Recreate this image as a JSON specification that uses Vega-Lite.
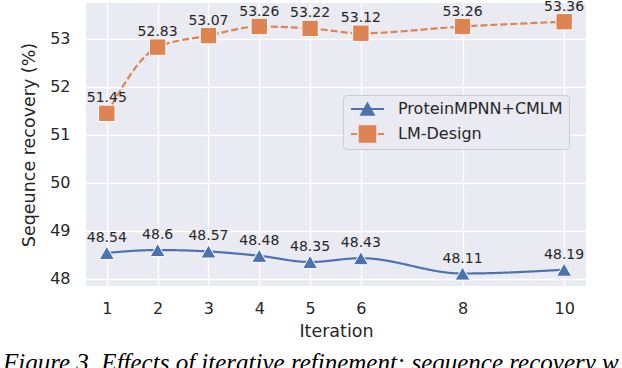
{
  "$schema": "https://vega.github.io/schema/vega-lite/v6.json",
  "autosize": {"type": "none"},
  "padding": {"left": 86, "top": 3, "right": 36, "bottom": 82},
  "width": 500,
  "height": 283,
  "background": "white",
  "title": {
    "text": "Figure 3. Effects of iterative refinement: sequence recovery w",
    "orient": "bottom",
    "anchor": "start",
    "frame": "group",
    "dx": -83,
    "offset": 11,
    "font": "Liberation Serif",
    "fontStyle": "italic",
    "fontWeight": "normal",
    "fontSize": 25,
    "color": "black"
  },
  "data": {
    "values": [
      {"iter": 1, "rec": 48.54, "label": "48.54", "model": "ProteinMPNN+CMLM"},
      {"iter": 2, "rec": 48.6, "label": "48.6", "model": "ProteinMPNN+CMLM"},
      {"iter": 3, "rec": 48.57, "label": "48.57", "model": "ProteinMPNN+CMLM"},
      {"iter": 4, "rec": 48.48, "label": "48.48", "model": "ProteinMPNN+CMLM"},
      {"iter": 5, "rec": 48.35, "label": "48.35", "model": "ProteinMPNN+CMLM"},
      {"iter": 6, "rec": 48.43, "label": "48.43", "model": "ProteinMPNN+CMLM"},
      {"iter": 8, "rec": 48.11, "label": "48.11", "model": "ProteinMPNN+CMLM"},
      {"iter": 10, "rec": 48.19, "label": "48.19", "model": "ProteinMPNN+CMLM"},
      {"iter": 1, "rec": 51.45, "label": "51.45", "model": "LM-Design"},
      {"iter": 2, "rec": 52.83, "label": "52.83", "model": "LM-Design"},
      {"iter": 3, "rec": 53.07, "label": "53.07", "model": "LM-Design"},
      {"iter": 4, "rec": 53.26, "label": "53.26", "model": "LM-Design"},
      {"iter": 5, "rec": 53.22, "label": "53.22", "model": "LM-Design"},
      {"iter": 6, "rec": 53.12, "label": "53.12", "model": "LM-Design"},
      {"iter": 8, "rec": 53.26, "label": "53.26", "model": "LM-Design"},
      {"iter": 10, "rec": 53.36, "label": "53.36", "model": "LM-Design"}
    ]
  },
  "encoding": {
    "x": {
      "field": "iter", "type": "quantitative",
      "scale": {"domain": [0.59, 10.43], "nice": false, "zero": false},
      "axis": {"values": [1, 2, 3, 4, 5, 6, 8, 10], "title": "Iteration", "labelPadding": 14, "titlePadding": 6}
    },
    "y": {
      "field": "rec", "type": "quantitative",
      "scale": {"domain": [47.85, 53.75], "nice": false, "zero": false},
      "axis": {"values": [48, 49, 50, 51, 52, 53], "title": "Seqeunce recovery (%)", "labelPadding": 16, "titlePadding": 11}
    },
    "color": {
      "field": "model", "type": "nominal",
      "scale": {"domain": ["ProteinMPNN+CMLM", "LM-Design"], "range": ["#4C72B0", "#DD8452"]},
      "legend": {
        "title": null,
        "orient": "none",
        "legendX": 257,
        "legendY": 92,
        "padding": 6,
        "rowPadding": 8,
        "symbolSize": 256,
        "labelOffset": 33,
        "labelLimit": 0,
        "labelFont": "DejaVu Sans",
        "labelFontSize": 16,
        "labelColor": "#262626",
        "fillColor": "#EAEAF2",
        "strokeColor": "#CCCCCC",
        "cornerRadius": 4,
        "encode": {
          "symbols": {
            "update": {
              "shape": {"signal": "datum.value === 'LM-Design' ? 'M-0.75,-0.125H0V0.125H-0.75Z M2.62,-0.125H3.375V0.125H2.62Z M0.21,-1.1H2.41V1.1H0.21Z' : 'M-0.75,-0.125H3.375V0.125H-0.75Z M0.31,0.85L1.31,-0.95L2.31,0.85Z'"},
              "fill": {"scale": "color", "field": "value"},
              "fillOpacity": {"value": 1},
              "strokeWidth": {"value": 0},
              "opacity": {"value": 1}
            }
          }
        }
      }
    }
  },
  "layer": [
    {
      "mark": {"type": "line", "interpolate": "monotone", "strokeWidth": 2.2},
      "encoding": {
        "strokeDash": {
          "field": "model", "type": "nominal",
          "scale": {"domain": ["ProteinMPNN+CMLM", "LM-Design"], "range": [[1, 0], [7, 3]]},
          "legend": null
        }
      }
    },
    {
      "transform": [{"filter": "datum.model === 'ProteinMPNN+CMLM'"}],
      "mark": {"type": "point", "shape": "triangle-up", "size": 230, "filled": true, "opacity": 1, "stroke": "white", "strokeWidth": 1}
    },
    {
      "transform": [{"filter": "datum.model === 'LM-Design'"}],
      "mark": {"type": "point", "shape": "square", "size": 270, "filled": true, "opacity": 1, "stroke": "white", "strokeWidth": 1}
    },
    {
      "mark": {"type": "text", "font": "DejaVu Sans", "fontSize": 14, "dy": -11, "baseline": "alphabetic", "color": "#262626"},
      "encoding": {
        "text": {"field": "label"},
        "color": {"value": "#262626"}
      }
    }
  ],
  "config": {
    "view": {"fill": "#EAEAF2", "stroke": null},
    "axis": {
      "grid": true,
      "gridColor": "white",
      "gridWidth": 1.3,
      "domain": false,
      "ticks": false,
      "tickSize": 0,
      "labelFont": "DejaVu Sans",
      "labelFontSize": 16,
      "labelColor": "#262626",
      "titleFont": "DejaVu Sans",
      "titleFontSize": 17.5,
      "titleFontWeight": "normal",
      "titleColor": "#262626"
    }
  }
}
